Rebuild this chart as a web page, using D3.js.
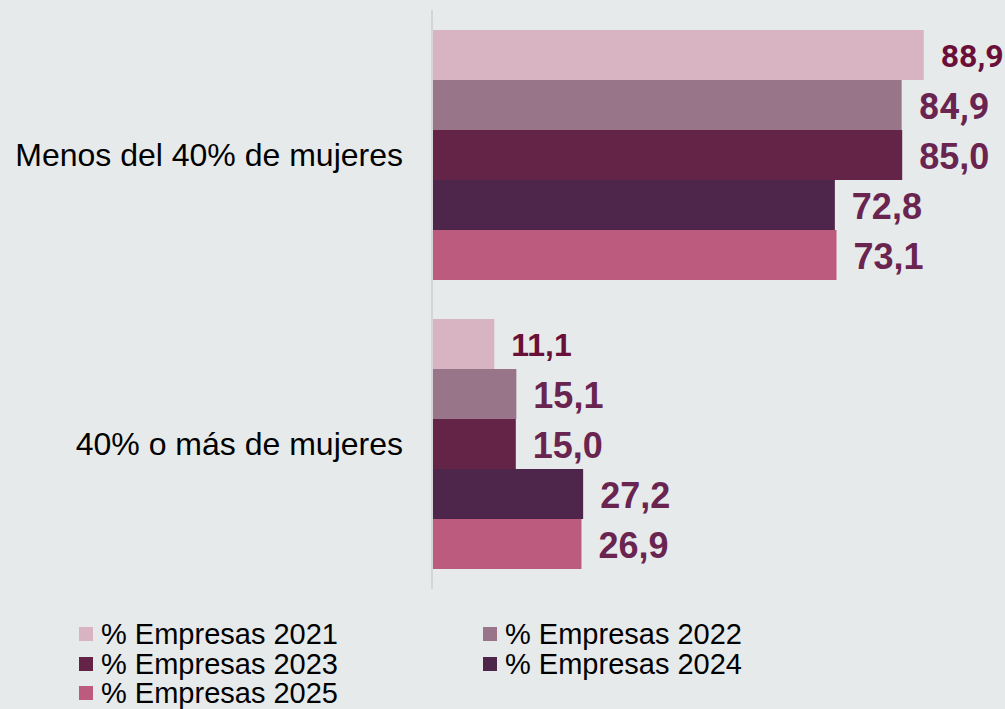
<!DOCTYPE html>
<html><head><meta charset="utf-8">
<script src="https://cdn.jsdelivr.net/npm/d3@7"></script>
<style>
html,body{margin:0;padding:0;background:#e7eaeb;}
svg{display:block;}
</style></head>
<body>
<svg id="chart" width="1005" height="709"></svg>
<script>
const categories = ["Menos del 40% de mujeres", "40% o más de mujeres"];
const seriesNames = ["% Empresas 2021", "% Empresas 2022", "% Empresas 2023", "% Empresas 2024", "% Empresas 2025"];
const values2021 = [88.9, 11.1];
const values2022 = [84.9, 15.1];
const values2023 = [85.0, 15.0];
const values2024 = [72.8, 27.2];
const values2025 = [73.1, 26.9];
const allValues = [values2021, values2022, values2023, values2024, values2025];

const colors = ["#d8b4c3", "#987589", "#632448", "#4f264b", "#bd5b7e"];
const labelFont = [
  {family: "Roboto, sans-serif", size: 32, color: "#6a1038"},
  {family: "Liberation Sans, Arial, sans-serif", size: 36, color: "#6a2450"},
  {family: "Liberation Sans, Arial, sans-serif", size: 36, color: "#6a2450"},
  {family: "Liberation Sans, Arial, sans-serif", size: 36, color: "#6a2450"},
  {family: "Liberation Sans, Arial, sans-serif", size: 36, color: "#6a2450"}
];

const svg = d3.select("#chart");
const fmt = v => d3.format(".1f")(v).replace(".", ",");

const x = d3.scaleLinear().domain([0, 100]).range([433, 985]);
const y0 = d3.scaleBand().domain(categories).range([30, 569]).paddingInner(39/289).paddingOuter(0);
const y1 = d3.scaleBand().domain(d3.range(seriesNames.length)).range([0, y0.bandwidth()]).padding(0);

svg.append("line")
  .attr("x1", 432).attr("x2", 432).attr("y1", 10).attr("y2", 589)
  .attr("stroke", "#d3d5d6").attr("stroke-width", 2);

svg.selectAll("text.cat").data(categories).join("text")
  .attr("class", "cat")
  .attr("x", 403)
  .attr("y", d => y0(d) + y0.bandwidth() / 2)
  .attr("dy", "0.35em")
  .attr("text-anchor", "end")
  .attr("font-family", "Liberation Sans, Arial, sans-serif")
  .attr("font-size", 32)
  .attr("fill", "#000")
  .text(d => d);

const records = [];
allValues.forEach((arr, si) => arr.forEach((v, ci) => records.push({si, ci, v})));

svg.selectAll("rect.bar").data(records).join("rect")
  .attr("class", "bar")
  .attr("x", x(0))
  .attr("y", d => y0(categories[d.ci]) + y1(d.si))
  .attr("width", d => x(d.v) - x(0))
  .attr("height", y1.bandwidth())
  .attr("fill", d => colors[d.si]);

svg.selectAll("text.val").data(records).join("text")
  .attr("class", "val")
  .attr("x", d => x(d.v) + 17)
  .attr("y", d => y0(categories[d.ci]) + y1(d.si) + y1.bandwidth() / 2 + 1)
  .attr("dy", "0.35em")
  .attr("font-family", d => (d.si === 0 && d.ci === 1) ? "Liberation Sans, Arial, sans-serif" : (d.si === 1 && d.ci === 0 ? "Roboto, sans-serif" : labelFont[d.si].family))
  .attr("font-size", d => labelFont[d.si].size)
  .attr("font-weight", "bold")
  .attr("fill", d => labelFont[d.si].color)
  .text(d => fmt(d.v));

const legendPos = [[79, 634], [483, 634], [79, 664], [483, 664], [79, 693]];
const lg = svg.selectAll("g.leg").data(seriesNames).join("g")
  .attr("class", "leg")
  .attr("transform", (d, i) => `translate(${legendPos[i][0]},${legendPos[i][1]})`);
lg.append("rect").attr("x", 0).attr("y", -7).attr("width", 14).attr("height", 14)
  .attr("fill", (d, i) => colors[i]);
lg.append("text").attr("x", 22).attr("y", 0).attr("dy", "0.35em")
  .attr("font-family", "Liberation Sans, Arial, sans-serif")
  .attr("font-size", 29)
  .attr("fill", "#000")
  .text(d => d);
</script>
</body></html>
